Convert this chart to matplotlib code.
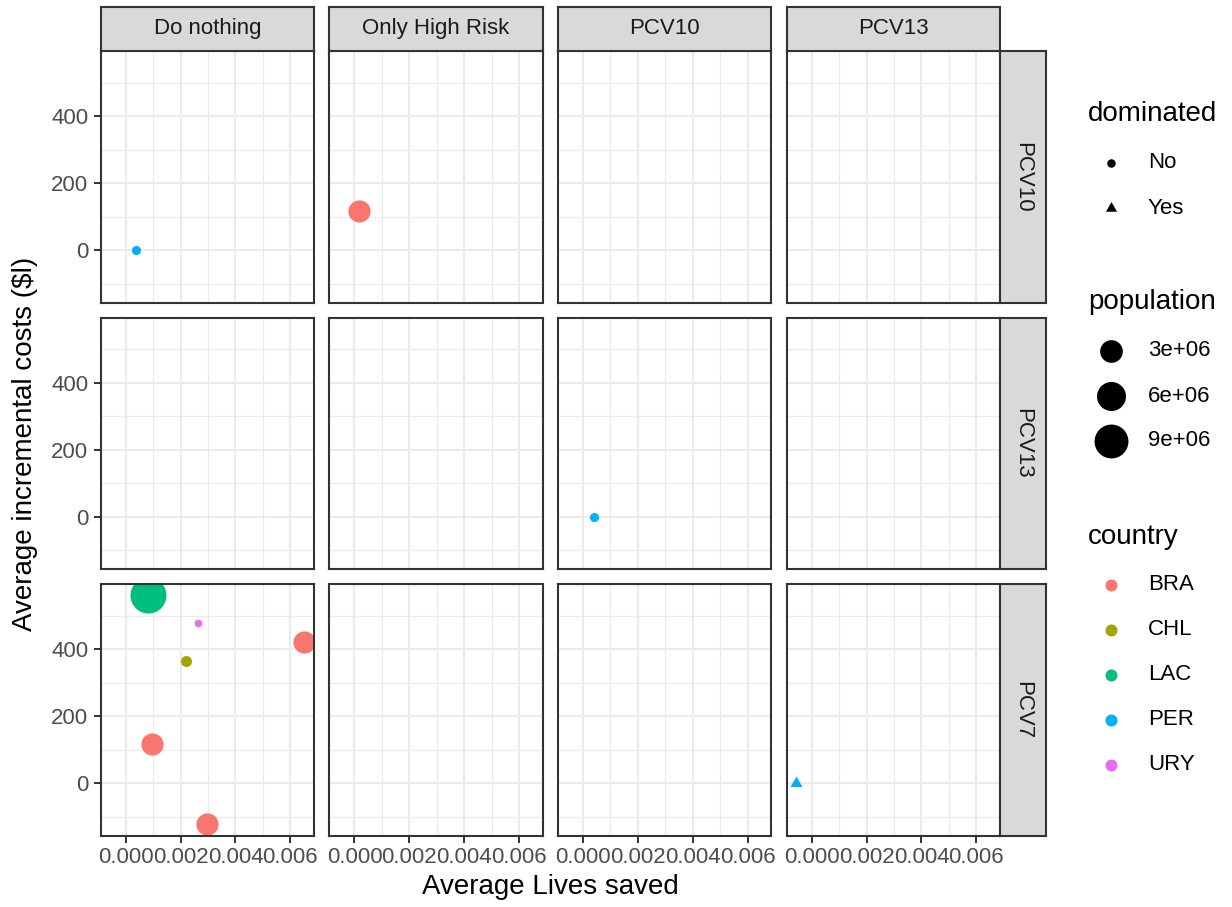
import numpy as np
import matplotlib
matplotlib.use('Agg')
import matplotlib.pyplot as plt
from matplotlib.path import Path

plt.rcParams['font.family'] = ['Liberation Sans', 'DejaVu Sans']

# ---------------- data ----------------
col_levels = ['Do nothing', 'Only High Risk', 'PCV10', 'PCV13']
row_levels = ['PCV10', 'PCV13', 'PCV7']
countries = ['BRA', 'CHL', 'LAC', 'PER', 'URY']
country_colors = ['#F8766D', '#A3A500', '#00BF7D', '#00B0F6', '#E76BF3']

pt_col = ['Do nothing', 'Only High Risk', 'PCV10', 'Do nothing', 'Do nothing',
          'Do nothing', 'Do nothing', 'Do nothing', 'Do nothing', 'PCV13']
pt_row = ['PCV10', 'PCV10', 'PCV13', 'PCV7', 'PCV7',
          'PCV7', 'PCV7', 'PCV7', 'PCV7', 'PCV7']
pt_country = ['PER', 'BRA', 'PER', 'LAC', 'URY', 'CHL', 'BRA', 'BRA', 'BRA', 'PER']
lives_saved = [0.00036, 0.00015, 0.00041, 0.00081, 0.00263, 0.00219,
               0.00651, 0.00096, 0.00298, -0.00056]
incr_costs = [0, 118, 0, 560, 477, 366, 420, 116, -122, 0]
population = [80000, 2.8e6, 80000, 10.5e6, 50000, 200000,
              2.8e6, 2.8e6, 2.8e6, 80000]
dominated = ['No', 'No', 'No', 'No', 'No', 'No', 'No', 'No', 'No', 'Yes']

size_breaks = [3e6, 6e6, 9e6]
size_labels = ['3e+06', '6e+06', '9e+06']
dom_levels = ['No', 'Yes']

x_major = [0.0, 0.002, 0.004, 0.006]
x_labels = ['0.000', '0.002', '0.004', '0.006']
y_major = [0, 200, 400]
y_labels = ['0', '200', '400']

# ---------------- layout ----------------
W, H = 1232, 907
DPI = 100
fig = plt.figure(figsize=(W / DPI, H / DPI), dpi=DPI)
fig.patch.set_facecolor('white')

PX2PT = 72.0 / DPI
col_lefts = [100.7, 329.4, 558.0, 786.7]
pw = 213.3
row_tops = [51.0, 317.5, 584.0]
ph = 251.8
strip_top = 6.7
strip_w = 45.5

border_col = '#333333'
grid_col = '#EBEBEB'
tick_col = '#4D4D4D'

def fig_rect(x, y, w, h):
    return [x / W, 1 - (y + h) / H, w / W, h / H]

# scales
xs = np.array(lives_saved); ys = np.array(incr_costs)
xr = xs.max() - xs.min(); yr = ys.max() - ys.min()
xlim = (xs.min() - 0.05 * xr, xs.max() + 0.05 * xr)
ylim = (ys.min() - 0.05 * yr, ys.max() + 0.05 * yr)

pop = np.array(population)
pmin, pmax = pop.min(), pop.max()

def diam_px(p):
    r = np.clip((np.asarray(p) - pmin) / (pmax - pmin), 0, None)
    return 7.6 + 28.4 * np.sqrt(r)

tri = Path([(-0.5, -0.2887), (0.5, -0.2887), (0.0, 0.5774), (-0.5, -0.2887)],
           [Path.MOVETO, Path.LINETO, Path.LINETO, Path.CLOSEPOLY])

def minor_between(major, lo, hi):
    step = major[1] - major[0]
    cand = np.arange(major[0] - step / 2, major[-1] + step, step)
    return [c for c in cand if lo <= c <= hi]

x_minor = minor_between(x_major, *xlim)
y_minor = minor_between(y_major, *ylim)

cmap = dict(zip(countries, country_colors))

for ri, rname in enumerate(row_levels):
    for ci, cname in enumerate(col_levels):
        ax = fig.add_axes(fig_rect(col_lefts[ci], row_tops[ri], pw, ph))
        ax.set_xlim(*xlim); ax.set_ylim(*ylim)
        ax.set_facecolor('white')
        for v in x_minor:
            ax.axvline(v, color=grid_col, lw=0.8, zorder=0)
        for v in y_minor:
            ax.axhline(v, color=grid_col, lw=0.8, zorder=0)
        for v in x_major:
            ax.axvline(v, color=grid_col, lw=1.5, zorder=0)
        for v in y_major:
            ax.axhline(v, color=grid_col, lw=1.5, zorder=0)
        for s in ax.spines.values():
            s.set_color(border_col); s.set_linewidth(1.5); s.set_zorder(5)
        ax.set_xticks(x_major)
        ax.set_yticks(y_major)
        if ri == len(row_levels) - 1:
            ax.set_xticklabels(x_labels)
            ax.tick_params(axis='x', length=5, width=1.4, color=border_col,
                           labelsize=16, labelcolor=tick_col, pad=3)
        else:
            ax.tick_params(axis='x', length=0, labelbottom=False)
        if ci == 0:
            ax.set_yticklabels(y_labels)
            ax.tick_params(axis='y', length=5, width=1.4, color=border_col,
                           labelsize=16, labelcolor=tick_col, pad=4)
        else:
            ax.tick_params(axis='y', length=0, labelleft=False)

        for k in range(len(pt_col)):
            if pt_col[k] == cname and pt_row[k] == rname:
                d = diam_px(population[k])
                if dominated[k] == 'Yes':
                    ms = d * 1.52 * PX2PT
                    ax.scatter([lives_saved[k]], [incr_costs[k]], s=ms ** 2,
                               marker=tri, color=cmap[pt_country[k]],
                               linewidths=0, zorder=3)
                else:
                    ms = d * PX2PT
                    ax.scatter([lives_saved[k]], [incr_costs[k]], s=ms ** 2,
                               marker='o', color=cmap[pt_country[k]],
                               linewidths=0, zorder=3)

# strips
for ci, cname in enumerate(col_levels):
    sa = fig.add_axes(fig_rect(col_lefts[ci], strip_top, pw, row_tops[0] - strip_top))
    sa.set_facecolor('#D9D9D9')
    sa.set_xticks([]); sa.set_yticks([])
    for s in sa.spines.values():
        s.set_color(border_col); s.set_linewidth(1.5)
    sa.text(0.5, 0.5, cname, ha='center', va='center', fontsize=16,
            color='#1A1A1A', transform=sa.transAxes)

for ri, rname in enumerate(row_levels):
    sa = fig.add_axes(fig_rect(col_lefts[-1] + pw, row_tops[ri], strip_w, ph))
    sa.set_facecolor('#D9D9D9')
    sa.set_xticks([]); sa.set_yticks([])
    for s in sa.spines.values():
        s.set_color(border_col); s.set_linewidth(1.5)
    sa.text(0.5, 0.5, rname, ha='center', va='center', fontsize=16,
            color='#1A1A1A', rotation=270, transform=sa.transAxes)

# axis titles
fig.text((col_lefts[0] + col_lefts[-1] + pw) / 2 / W, 1 - 887 / H,
         'Average Lives saved', ha='center', va='center', fontsize=20, color='black')
fig.text(25 / W, 1 - (row_tops[0] + row_tops[-1] + ph) / 2 / H,
         'Average incremental costs ($l)', ha='center', va='center',
         fontsize=20, rotation=90, color='black')

# legend (overlay in pixel coordinates)
lg = fig.add_axes([0, 0, 1, 1], facecolor='none')
lg.set_xlim(0, W); lg.set_ylim(H, 0); lg.axis('off')
key_x = 1111
lab_x = 1148
title_x = 1088

lg.text(title_x, 114, 'dominated', fontsize=20, va='center', ha='left')
dom_y = [163, 208]
for lvl, yy in zip(dom_levels, dom_y):
    if lvl == 'Yes':
        lg.scatter([key_x], [yy], s=(8.5 * 1.52 * PX2PT) ** 2, marker=tri, color='black', linewidths=0)
    else:
        lg.scatter([key_x], [yy], s=(8.5 * PX2PT) ** 2, marker='o', color='black', linewidths=0)
    lg.text(lab_x, yy, lvl, fontsize=16, va='center', ha='left')

lg.text(title_x, 302, 'population', fontsize=20, va='center', ha='left')
pop_y = [350.5, 396, 441]
for b, lab, yy in zip(size_breaks, size_labels, pop_y):
    lg.scatter([key_x], [yy], s=(diam_px(b) * PX2PT) ** 2, marker='o', color='black', linewidths=0)
    lg.text(lab_x, yy, lab, fontsize=16, va='center', ha='left')

lg.text(title_x, 537, 'country', fontsize=20, va='center', ha='left')
cty_y = [584.5, 629.5, 674.5, 719.5, 764.5]
for c, col, yy in zip(countries, country_colors, cty_y):
    lg.scatter([key_x], [yy], s=(12 * PX2PT) ** 2, marker='o', color=col, linewidths=0)
    lg.text(lab_x, yy, c, fontsize=16, va='center', ha='left')

fig.savefig('out.png', dpi=DPI, facecolor='white')
